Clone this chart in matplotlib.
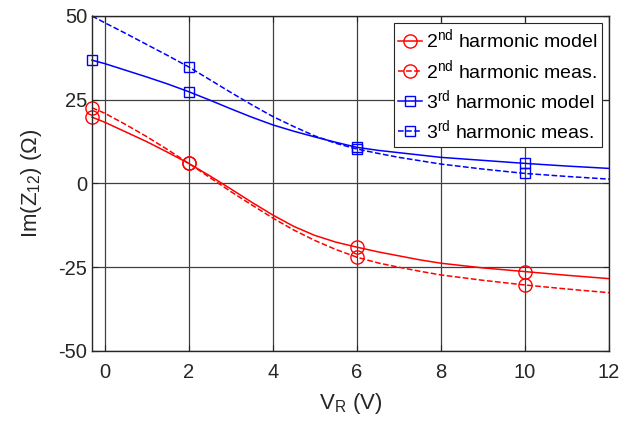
import numpy as np
import matplotlib
matplotlib.use("Agg")
import matplotlib.pyplot as plt

plt.rcParams['font.family'] = ['Liberation Sans', 'DejaVu Sans']
plt.rcParams['mathtext.fontset'] = 'custom'
plt.rcParams['mathtext.rm'] = 'Liberation Sans'
plt.rcParams['mathtext.it'] = 'Liberation Sans:italic'
plt.rcParams['axes.unicode_minus'] = False

# reverse voltage (V)
vr = [-0.3, 0, 0.5, 1, 1.5, 2, 2.5, 3, 3.5, 4, 4.5, 5, 5.5, 6, 6.5, 7, 7.5, 8, 9, 10, 11, 12]

# Im(Z12) in ohm
h2_model = [19.8, 18.3, 15.4, 12.5, 9.3, 6.0, 2.3, -1.6, -5.6, -9.4, -12.8, -15.5, -17.5, -19.0,
            -20.4, -21.6, -22.8, -23.8, -25.2, -26.3, -27.4, -28.4]
h2_meas = [22.6, 21.0, 17.6, 14.0, 10.1, 6.0, 1.8, -2.4, -6.4, -10.3, -13.9, -17.0, -19.7, -22.0,
           -23.7, -25.0, -26.2, -27.3, -28.9, -30.3, -31.5, -32.6]
h3_model = [36.8, 35.8, 33.8, 31.8, 29.7, 27.4, 24.9, 22.3, 19.8, 17.5, 15.6, 13.9, 12.3, 10.8,
            9.9, 9.2, 8.5, 7.8, 6.9, 6.0, 5.2, 4.5]
h3_meas = [50.0, 48.0, 44.8, 41.5, 38.2, 34.8, 31.0, 27.2, 23.5, 20.0, 17.0, 14.2, 12.0, 10.3,
           9.0, 7.8, 6.8, 5.8, 4.3, 3.0, 2.1, 1.3]

# measurement points (indices into vr: -0.3, 2, 6, 10)
meas_pts = [0, 5, 13, 19]
meas_pts_h3 = [5, 13, 19]

xticks = [0, 2, 4, 6, 8, 10, 12]
yticks = [-50, -25, 0, 25, 50]

fig = plt.figure(figsize=(6.32, 4.24), dpi=100)
ax = fig.add_axes([0.1456, 0.1722, 0.818, 0.7901])

ax.plot(vr, h2_model, '-', color='red', lw=1.1, marker='o', ms=9.5, mfc='none',
        markevery=meas_pts, clip_on=False, label=r'2$^{\rm nd}$ harmonic model')
ax.plot(vr, h2_meas, '--', color='red', lw=1.1, marker='o', ms=9.5, mfc='none',
        markevery=meas_pts, clip_on=False, label=r'2$^{\rm nd}$ harmonic meas.')
ax.plot(vr, h3_model, '-', color='blue', lw=1.1, marker='s', ms=7, mfc='none',
        markevery=meas_pts, clip_on=False, label=r'3$^{\rm rd}$ harmonic model')
ax.plot(vr, h3_meas, '--', color='blue', lw=1.1, marker='s', ms=7, mfc='none',
        markevery=meas_pts_h3, clip_on=False, label=r'3$^{\rm rd}$ harmonic meas.')

ax.set_xlim(-0.3, 12)
ax.set_ylim(-50, 50)
ax.set_xticks(xticks)
ax.set_yticks(yticks)
ax.grid(True, color='0.25', lw=0.9)
ax.set_axisbelow(True)
ax.tick_params(direction='in', labelsize=14.5, top=True, right=True, length=4,
               color='0.15', labelcolor='0.15')
ax.tick_params(axis='x', pad=9)
for s in ax.spines.values():
    s.set_color('0.15')
    s.set_linewidth(1.0)

ax.set_xlabel(r'V$_{\rm R}$ (V)', fontsize=16, color='0.15', labelpad=6)
ax.set_ylabel(r'Im(Z$_{12}$) ($\Omega$)', fontsize=16, color='0.15', labelpad=10)

leg = ax.legend(loc='upper right', fontsize=14, handlelength=1.2, handletextpad=0.2,
                borderpad=0.25, labelspacing=0.32, borderaxespad=0.35, fancybox=False,
                framealpha=1, edgecolor='0.15')
leg.get_frame().set_linewidth(0.8)

plt.savefig('out.png', dpi=100)
